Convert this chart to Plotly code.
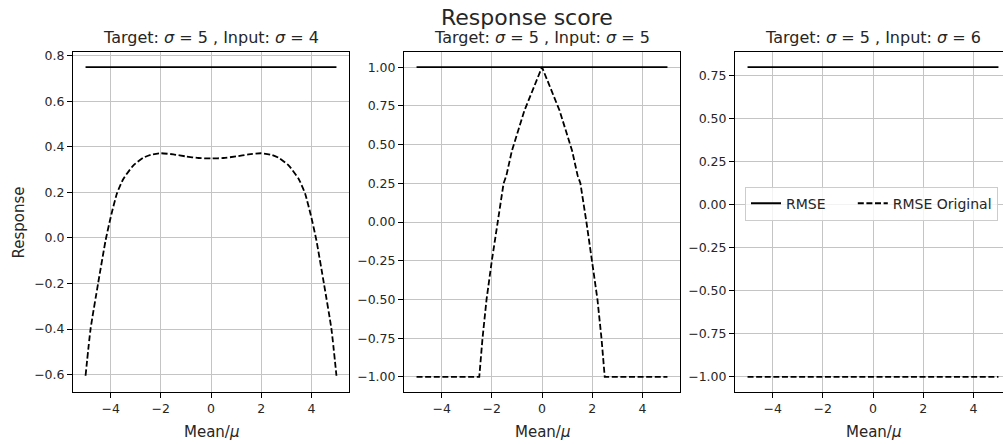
import plotly.graph_objects as go

# ---------------- data ----------------
x_flat = [-5.0, 5.0]

# panel 1 : Target sigma=5, Input sigma=4
rmse1 = [0.75, 0.75]
x1 = [-5.0, -4.8, -4.5, -4.2, -4.0, -3.75, -3.5, -3.1, -2.7, -2.4, -2.0, -1.5, -1.0, -0.5, 0.0,
      0.5, 1.0, 1.5, 2.0, 2.4, 2.7, 3.1, 3.5, 3.75, 4.0, 4.2, 4.5, 4.8, 5.0]
y1 = [-0.605, -0.40, -0.20, -0.01, 0.09, 0.195, 0.258, 0.318, 0.352, 0.365, 0.372, 0.367, 0.358, 0.351, 0.349,
      0.351, 0.358, 0.367, 0.372, 0.365, 0.352, 0.318, 0.258, 0.195, 0.09, -0.01, -0.20, -0.40, -0.605]

# panel 2 : Target sigma=5, Input sigma=5
rmse2 = [1.0, 1.0]
x2 = [-5.0, -2.5, -2.37, -2.21, -2.0, -1.77, -1.53, -1.42, -1.2, -0.7, 0.0,
      0.7, 1.2, 1.42, 1.53, 1.77, 2.0, 2.21, 2.37, 2.5, 5.0]
y2 = [-1.0, -1.0, -0.75, -0.5, -0.25, 0.0, 0.25, 0.30, 0.46, 0.72, 1.0,
      0.72, 0.46, 0.30, 0.25, 0.0, -0.25, -0.5, -0.75, -1.0, -1.0]

# panel 3 : Target sigma=5, Input sigma=6
rmse3 = [0.8, 0.8]
x3 = [-5.0, 5.0]
y3 = [-1.0, -1.0]

titles = ["Target: <i>σ</i> = 5 , Input: <i>σ</i> = 4",
          "Target: <i>σ</i> = 5 , Input: <i>σ</i> = 5",
          "Target: <i>σ</i> = 5 , Input: <i>σ</i> = 6"]
x_ticks = [-4, -2, 0, 2, 4]
legend_names = ["RMSE", "RMSE Original"]

# ---------------- layout helpers ----------------
W, H = 1003, 444
FONT = "DejaVu Sans"
TXT = "#262626"
panels_px = [(73, 349), (404, 680), (735, 1003)]
top_px, bot_px = 49, 392
ydom = [1 - bot_px / H, 1 - top_px / H]
px_per_unit = 276 / 11.0

dash = "6px,2.6px"
LW = 1.8
fig = go.Figure()

series = [(rmse1, x1, y1), (rmse2, x2, y2), (rmse3, x3, y3)]
for i, (rm, xd, yd) in enumerate(series):
    ax = "" if i == 0 else str(i + 1)
    fig.add_trace(go.Scatter(x=x_flat, y=rm, mode="lines",
                             name=legend_names[0] + "\u00a0" * 5,
                             line=dict(color="black", width=LW),
                             xaxis="x" + ax, yaxis="y" + ax, showlegend=(i == 2)))
    fig.add_trace(go.Scatter(x=xd, y=yd, mode="lines", name=legend_names[1],
                             line=dict(color="black", width=LW, dash=dash,
                                       shape="spline" if i == 0 else "linear", smoothing=0.5),
                             xaxis="x" + ax, yaxis="y" + ax, showlegend=(i == 2)))

grid_col = "#c4c4c4"
common_x = dict(tickvals=x_ticks, ticks="outside", ticklen=5, tickcolor="black",
                showgrid=True, gridcolor=grid_col, gridwidth=1, zeroline=False,
                showline=True, linecolor="black", linewidth=1,
                tickfont=dict(family=FONT, size=12.5, color=TXT))
common_y = dict(ticks="outside", ticklen=5, tickcolor="black",
                showgrid=True, gridcolor=grid_col, gridwidth=1, zeroline=False,
                showline=True, linecolor="black", linewidth=1,
                tickfont=dict(family=FONT, size=12.5, color=TXT))

layout = dict(width=W, height=H, margin=dict(l=0, r=0, t=0, b=0),
              paper_bgcolor="white", plot_bgcolor="white",
              font=dict(family=FONT, color=TXT))

yranges = [[-0.678, 0.818], [-1.1, 1.1], [-1.09, 0.89]]
ydticks = [(0.2, ".1f"), (0.25, ".2f"), (0.25, ".2f")]
for i, (l, r) in enumerate(panels_px):
    ax = "" if i == 0 else str(i + 1)
    xr_left = -5.5
    xr_right = xr_left + (r - l) / px_per_unit
    xa = dict(common_x, domain=[l / W, r / W], range=[xr_left, xr_right],
              anchor="y" + ax, mirror=True)
    ya = dict(common_y, domain=ydom, range=yranges[i], anchor="x" + ax,
              dtick=ydticks[i][0], tick0=0, tickformat=ydticks[i][1],
              mirror=(i < 2))
    layout["xaxis" + ax] = xa
    layout["yaxis" + ax] = ya

annotations = [
    dict(text="Response score", x=526.7 / W, y=1 - 14.5 / H, xref="paper", yref="paper",
         xanchor="center", yanchor="middle", showarrow=False,
         font=dict(family=FONT, size=22, color=TXT)),
    dict(text="Response", x=19 / W, y=1 - 221 / H, xref="paper", yref="paper",
         xanchor="center", yanchor="middle", showarrow=False, textangle=-90,
         font=dict(family=FONT, size=15, color=TXT)),
]
for i, (l, r) in enumerate(panels_px):
    cx = (l + l + 276) / 2.0
    annotations.append(dict(text=titles[i], x=cx / W, y=1 - 35 / H, xref="paper", yref="paper",
                            xanchor="center", yanchor="middle", showarrow=False,
                            font=dict(family=FONT, size=16, color=TXT)))
    annotations.append(dict(text="Mean/<i>μ</i>", x=cx / W, y=1 - 432 / H, xref="paper", yref="paper",
                            xanchor="center", yanchor="middle", showarrow=False,
                            font=dict(family=FONT, size=15, color=TXT)))
layout["annotations"] = annotations

layout["legend"] = dict(orientation="h", x=745 / W, y=1 - 202 / H, xanchor="left", yanchor="middle",
                        bgcolor="rgba(255,255,255,0.8)", bordercolor="#cccccc", borderwidth=1,
                        font=dict(family=FONT, size=14, color=TXT), itemwidth=30)

fig.update_layout(**layout)
fig.write_html("out.html", config=dict(displayModeBar=False))
